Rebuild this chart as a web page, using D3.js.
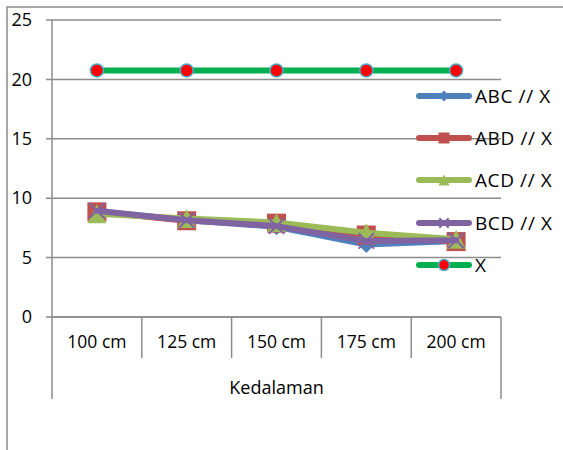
<!DOCTYPE html>
<html>
<head>
<meta charset="utf-8">
<script src="https://cdn.jsdelivr.net/npm/d3@7/dist/d3.min.js"></script>
<style>
  html, body { margin: 0; padding: 0; background: #fff; }
  svg { display: block; }
  text { font-family: "Open Sans", "Liberation Sans", sans-serif; fill: #000; }
</style>
</head>
<body>
<svg id="chart" width="563" height="450"></svg>
<script>
// Depth categories and measured series
const categories = ["100 cm", "125 cm", "150 cm", "175 cm", "200 cm"];
const axisTitle = "Kedalaman";
const yTicks = [0, 5, 10, 15, 20, 25];

const seriesNames = ["ABC // X", "ABD // X", "ACD // X", "BCD // X", "X"];
const abcValues = [8.9, 8.15, 7.6, 6.1, 6.4];
const abdValues = [8.85, 8.1, 7.9, 6.9, 6.35];
const acdValues = [8.7, 8.3, 7.95, 7.1, 6.55];
const bcdValues = [8.95, 8.15, 7.65, 6.4, 6.45];
const xValues = [20.75, 20.75, 20.75, 20.75, 20.75];

const styles = [
  { color: "#4f81bd", marker: "diamond" },
  { color: "#c0504d", marker: "square" },
  { color: "#9bbb59", marker: "triangle" },
  { color: "#8064a2", marker: "cross" },
  { color: "#00b050", marker: "circle" }
];
const series = [abcValues, abdValues, acdValues, bcdValues, xValues].map((vals, i) => ({
  name: seriesNames[i], values: vals, ...styles[i]
}));

const svg = d3.select("#chart");
const gridColor = "#8c8c8c";
const plot = { left: 52, right: 501, top: 20, bottom: 317 };

const x = d3.scaleBand().domain(categories).range([plot.left, plot.right]);
const y = d3.scaleLinear().domain([0, 25]).range([plot.bottom, plot.top]);

// outer frame (left and top edges)
svg.append("path")
  .attr("d", "M7,450 L7,7 L563,7")
  .attr("fill", "none").attr("stroke", gridColor).attr("stroke-width", 1.5);

// horizontal gridlines with small ticks left of the axis
svg.append("g").selectAll("line").data(yTicks).join("line")
  .attr("x1", plot.left - 6).attr("x2", plot.right)
  .attr("y1", d => y(d)).attr("y2", d => y(d))
  .attr("stroke", gridColor).attr("stroke-width", 1.5);

// y axis labels
const yAxis = svg.append("g")
  .attr("transform", `translate(${plot.left},0)`)
  .call(d3.axisLeft(y).tickValues(yTicks).tickSize(0).tickPadding(20));
yAxis.select(".domain").remove();
yAxis.selectAll("text").style("font-size", "18px")
  .style("font-family", '"Open Sans", sans-serif');

// y axis line
svg.append("line")
  .attr("x1", plot.left).attr("x2", plot.left)
  .attr("y1", plot.top).attr("y2", plot.bottom)
  .attr("stroke", gridColor).attr("stroke-width", 1.5);

// category separators: inner ones short, outer ones enclosing the title row
const bounds = categories.map(c => x(c)).concat([x.range()[1]]);
svg.append("g").selectAll("line").data(bounds).join("line")
  .attr("x1", d => d).attr("x2", d => d)
  .attr("y1", plot.bottom)
  .attr("y2", (d, i) => (i === 0 || i === bounds.length - 1) ? 399 : 358)
  .attr("stroke", gridColor).attr("stroke-width", 1.5);

// x axis with category labels
const xAxis = svg.append("g")
  .attr("transform", `translate(0,${plot.bottom})`)
  .call(d3.axisBottom(x).tickSize(0).tickPadding(19));
xAxis.select(".domain").remove();
xAxis.selectAll("text").style("font-size", "17.5px")
  .style("font-family", '"Open Sans", sans-serif');
svg.append("line")
  .attr("x1", plot.left).attr("x2", plot.right)
  .attr("y1", plot.bottom).attr("y2", plot.bottom)
  .attr("stroke", gridColor).attr("stroke-width", 1.5);

svg.append("text")
  .attr("x", (plot.left + plot.right) / 2).attr("y", 387)
  .attr("text-anchor", "middle").attr("dominant-baseline", "central")
  .style("font-size", "18px").text(axisTitle);

// marker drawing
function drawMarker(g, s, cx, cy, size) {
  const h = size / 2;
  if (s.marker === "diamond") {
    g.append("path")
      .attr("d", `M${cx},${cy - h} L${cx + h},${cy} L${cx},${cy + h} L${cx - h},${cy} Z`)
      .attr("fill", s.color);
  } else if (s.marker === "square") {
    g.append("rect")
      .attr("x", cx - h).attr("y", cy - h).attr("width", size).attr("height", size)
      .attr("fill", s.color);
  } else if (s.marker === "triangle") {
    g.append("path")
      .attr("d", `M${cx},${cy - h} L${cx + h},${cy + h} L${cx - h},${cy + h} Z`)
      .attr("fill", s.color);
  } else if (s.marker === "cross") {
    const k = h * 0.85;
    g.append("path")
      .attr("d", `M${cx - k},${cy - k} L${cx + k},${cy + k} M${cx - k},${cy + k} L${cx + k},${cy - k}`)
      .attr("stroke", s.color).attr("stroke-width", 2);
  } else if (s.marker === "circle") {
    g.append("circle")
      .attr("cx", cx).attr("cy", cy).attr("r", h)
      .attr("fill", "#ff0000").attr("stroke", "#4bacc6").attr("stroke-width", 1.5);
  }
}

const line = d3.line()
  .x((d, i) => x(categories[i]) + x.bandwidth() / 2)
  .y(d => y(d));

const markerSize = { diamond: 17, square: 19, triangle: 19, cross: 18, circle: 13 };

series.forEach(s => {
  const g = svg.append("g");
  g.append("path")
    .attr("d", line(s.values))
    .attr("fill", "none").attr("stroke", s.color)
    .attr("stroke-width", 6).attr("stroke-linejoin", "round").attr("stroke-linecap", "round");
  s.values.forEach((v, i) => {
    drawMarker(g, s, x(categories[i]) + x.bandwidth() / 2, y(v), markerSize[s.marker]);
  });
});

// legend
const legendY = [96, 138, 180, 223, 265];
const legend = svg.append("g");
series.forEach((s, i) => {
  const g = legend.append("g");
  g.append("line")
    .attr("x1", 419).attr("x2", 469)
    .attr("y1", legendY[i]).attr("y2", legendY[i])
    .attr("stroke", s.color).attr("stroke-width", 6).attr("stroke-linecap", "round");
  drawMarker(g, s, 444, legendY[i], 11);
  g.append("text")
    .attr("x", 475).attr("y", legendY[i])
    .attr("dominant-baseline", "central")
    .style("font-size", "19px").style("letter-spacing", "0.6px").text(s.name);
});
</script>
</body>
</html>
